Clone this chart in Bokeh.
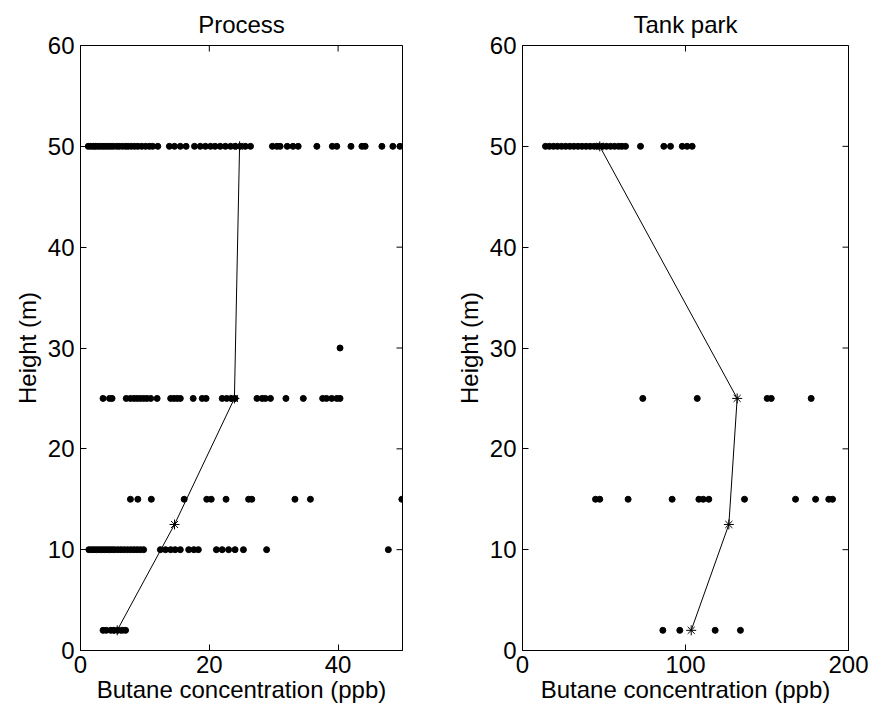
import math
from bokeh.plotting import figure
from bokeh.layouts import row
from bokeh.models import Range1d, FixedTicker
from bokeh.embed import file_html
from bokeh.resources import INLINE

# ---- data ----
process_h50 = [1.2, 1.6, 2.0, 2.3, 2.7, 3.1, 3.5, 3.9, 4.3, 4.7, 5.1, 5.6, 6.0, 6.5, 7.0, 7.4,
               7.9, 8.4, 8.9, 9.5, 10.1, 10.7, 11.2, 12.0, 13.8, 14.6, 15.5, 16.4, 17.7, 18.6,
               19.4, 20.2, 20.9, 21.7, 22.5, 23.3, 24.0, 24.8, 25.6, 26.4, 29.8, 30.5, 31.0,
               32.1, 33.0, 33.8, 36.7, 39.1, 39.8, 42.0, 43.7, 44.2, 46.8, 48.5, 49.6]
process_h30 = [40.3]
process_h25 = [3.5, 4.5, 4.9, 7.1, 7.75, 8.3, 8.8, 9.3, 9.8, 10.3, 10.9, 11.9, 14.0, 14.5, 15.0,
               15.5, 17.5, 18.9, 19.5, 22.0, 22.7, 23.4, 24.0, 27.4, 28.2, 28.7, 29.5, 31.9,
               34.6, 37.6, 38.2, 39.0, 39.8, 40.3]
process_h15 = [7.75, 8.9, 11.0, 16.1, 19.6, 20.3, 22.6, 26.1, 26.6, 33.3, 35.7, 49.9]
process_h10 = [1.3, 1.7, 2.1, 2.5, 2.9, 3.3, 3.7, 4.1, 4.5, 4.9, 5.3, 5.8, 6.3, 6.8, 7.3, 7.8,
               8.3, 8.8, 9.3, 9.8, 12.4, 13.2, 14.0, 14.7, 15.5, 16.8, 17.6, 18.3, 21.1, 22.0,
               23.0, 24.0, 25.3, 28.9, 47.8]
process_h2 = [3.5, 4.0, 4.7, 5.2, 5.8, 6.5, 7.0]
process_mean_heights = [2, 12.5, 25, 50]
process_mean = [5.7, 14.6, 23.9, 24.7]

tank_h50 = [14.1, 16.5, 19.0, 21.5, 24.0, 26.5, 29.0, 31.5, 34.0, 36.5, 39.0, 41.5, 44.0, 46.5,
            49.0, 51.5, 54.0, 56.5, 59.0, 61.0, 63.2, 72.4, 86.7, 90.8, 98.0, 101.0, 104.1]
tank_h25 = [73.8, 107.2, 150.1, 152.6, 177.1]
tank_h15 = [44.8, 47.4, 64.8, 91.8, 108.2, 110.9, 114.3, 136.2, 167.5, 179.8, 187.9, 190.2]
tank_h2 = [86.1, 96.5, 118.2, 133.7]
tank_mean_heights = [2, 12.5, 25, 50]
tank_mean = [103.5, 126.6, 131.7, 47.4]

x_ticks_process = [0, 20, 40]
x_ticks_tank = [0, 100, 200]
y_ticks = [0, 10, 20, 30, 40, 50, 60]

FONT = "Liberation Sans"
FS = "24px"


def points(groups):
    xs, ys = [], []
    for h, vals in groups:
        xs += vals
        ys += [h] * len(vals)
    return xs, ys


def make_panel(title, xmax, xticks, groups, mean_x, mean_h, border_left, frame_w, border_right):
    p = figure(frame_width=frame_w, frame_height=605, output_backend="svg", toolbar_location=None,
               x_range=Range1d(0, xmax), y_range=Range1d(0, 60),
               min_border_left=border_left, min_border_right=border_right, min_border_top=45,
               min_border_bottom=61, title=title)
    p.title.align = "center"
    p.title.text_font = FONT
    p.title.text_font_size = FS
    p.title.text_font_style = "normal"
    p.title.text_color = "black"
    p.title.standoff = 16
    p.grid.visible = False
    p.outline_line_color = "black"
    p.background_fill_color = "white"
    p.border_fill_color = "white"

    p.xaxis.ticker = FixedTicker(ticks=xticks)
    p.yaxis.ticker = FixedTicker(ticks=y_ticks)
    p.xaxis.axis_label = "Butane concentration (ppb)"
    p.yaxis.axis_label = "Height (m)"
    for ax in [p.xaxis[0], p.yaxis[0]]:
        ax.major_tick_in = 6
        ax.major_tick_out = 0
        ax.minor_tick_line_color = None
        ax.axis_line_color = "black"
        ax.major_tick_line_color = "black"
        ax.major_label_text_font = FONT
        ax.major_label_text_font_size = FS
        ax.major_label_text_color = "black"
        ax.axis_label_text_font = FONT
        ax.axis_label_text_font_size = FS
        ax.axis_label_text_font_style = "normal"
        ax.axis_label_text_color = "black"
    p.xaxis.major_label_standoff = 5
    p.xaxis.axis_label_standoff = 0
    p.yaxis.major_label_standoff = 6
    p.yaxis.axis_label_standoff = 4

    # inward tick marks on the top and right edges of the box (clipped to the frame)
    p.scatter(xticks, [60] * len(xticks), marker="dash", angle=math.pi / 2, size=12,
              line_color="black", line_width=1)
    p.scatter([xmax] * len(y_ticks), y_ticks, marker="dash", size=12,
              line_color="black", line_width=1)

    xs, ys = points(groups)
    p.scatter(xs, ys, size=6, marker="circle", fill_color="black", line_color="black")
    p.line(mean_x, mean_h, line_color="black", line_width=1)
    p.scatter(mean_x, mean_h, size=10, marker="asterisk", line_color="black", line_width=1)
    return p


left = make_panel("Process", 50, x_ticks_process,
                  [(50, process_h50), (30, process_h30), (25, process_h25), (15, process_h15),
                   (10, process_h10), (2, process_h2)],
                  process_mean, process_mean_heights, 80, 322, 33)
right_p = make_panel("Tank park", 200, x_ticks_tank,
                     [(50, tank_h50), (25, tank_h25), (15, tank_h15), (2, tank_h2)],
                     tank_mean, tank_mean_heights, 87, 326, 22)

layout = row(left, right_p)
open("out.html", "w").write(file_html(layout, INLINE))
